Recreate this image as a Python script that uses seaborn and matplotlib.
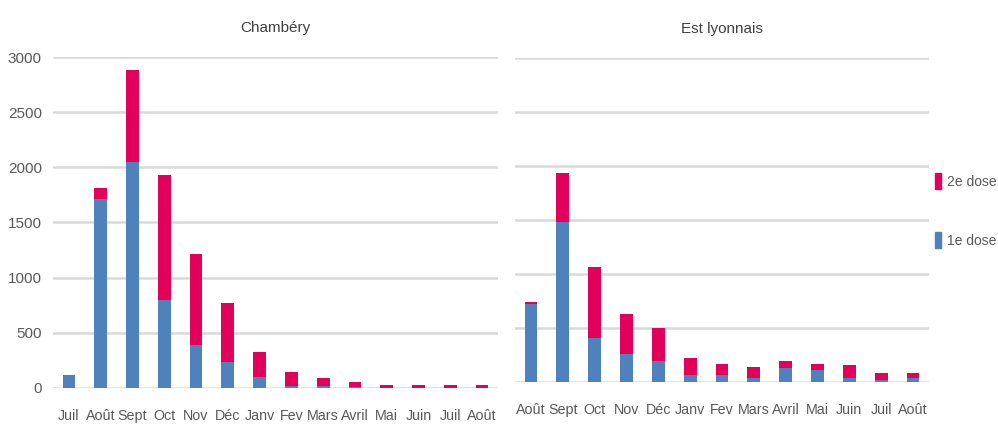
import numpy as np
import pandas as pd
import matplotlib
matplotlib.use("Agg")
import matplotlib.pyplot as plt
import seaborn as sns
from matplotlib.patches import Patch

# ── Data ──
chambery_months = ["Juil", "Août", "Sept", "Oct", "Nov", "Déc", "Janv",
                   "Fev", "Mars", "Avril", "Mai", "Juin", "Juil", "Août"]
chambery_dose1 = [115, 1710, 2053, 793, 388, 236, 100, 18, 15, 5, 0, 0, 0, 0]
chambery_dose2 = [0, 100, 832, 1136, 823, 533, 221, 127, 70, 50, 27, 20, 27, 27]

est_months = ["Août", "Sept", "Oct", "Nov", "Déc", "Janv", "Fev",
              "Mars", "Avril", "Mai", "Juin", "Juil", "Août"]
est_dose1 = [720, 1481, 408, 260, 192, 59, 59, 37, 124, 105, 37, 12, 31]
est_dose2 = [22, 452, 653, 368, 303, 161, 105, 102, 68, 59, 115, 65, 46]

BLUE = "#4F81BD"
PINK = "#E3005A"
GRID = "#D9D9D9"
TXT = "#595959"

sns.set_theme(style="white")
plt.rcParams["font.family"] = ["Liberation Sans", "DejaVu Sans"]

fig = plt.figure(figsize=(9.98, 4.29), dpi=100)
ax1 = fig.add_axes([53 / 998, 1 - 387.7 / 429, 445 / 998, 330.4 / 429])
ax2 = fig.add_axes([515 / 998, 1 - 381.7 / 429, 414 / 998, 324 / 429])


def draw(ax, months, d1, d2, title, show_y):
    df = pd.DataFrame({"pos": np.arange(len(months)),
                       "d1": d1, "d2": d2})
    df["total"] = df["d1"] + df["d2"]
    # pink = total, blue (1e dose) drawn over it -> stacked look
    sns.barplot(data=df, x="pos", y="total", color=PINK, width=0.4,
                saturation=1, linewidth=0, ax=ax, zorder=3)
    sns.barplot(data=df, x="pos", y="d1", color=BLUE, width=0.4,
                saturation=1, linewidth=0, ax=ax, zorder=3)
    ax.set_xlim(-0.5, len(months) - 0.5)
    ax.set_ylim(0, 3000)
    ax.set_yticks(np.arange(0, 3001, 500))
    ax.yaxis.grid(True, color=GRID, lw=1.8, zorder=0)
    ax.set_axisbelow(True)
    for s in ax.spines.values():
        s.set_visible(False)
    ax.set_xticks(np.arange(len(months)))
    ax.set_xticklabels(months, fontsize=10.3, color=TXT)
    ax.tick_params(axis="x", length=0, pad=15)
    ax.tick_params(axis="y", length=0, pad=8, labelsize=11, labelcolor=TXT)
    if not show_y:
        ax.set_yticklabels([])
    ax.set_xlabel("")
    ax.set_ylabel("")
    ax.set_title(title, fontsize=11, color="#404040", pad=18)


draw(ax1, chambery_months, chambery_dose1, chambery_dose2, "Chambéry", True)
draw(ax2, est_months, est_dose1, est_dose2, "Est lyonnais", False)

handles = [Patch(color=PINK, label="2e dose"), Patch(color=BLUE, label="1e dose")]
fig.legend(handles=handles, loc="upper left", bbox_to_anchor=(935 / 998, 1 - 173 / 429),
           frameon=False, fontsize=10, labelcolor=TXT, handlelength=0.45,
           handleheight=1.4, handletextpad=0.4, labelspacing=3.1, borderaxespad=0,
           borderpad=0)

fig.savefig("out.png", dpi=100)
